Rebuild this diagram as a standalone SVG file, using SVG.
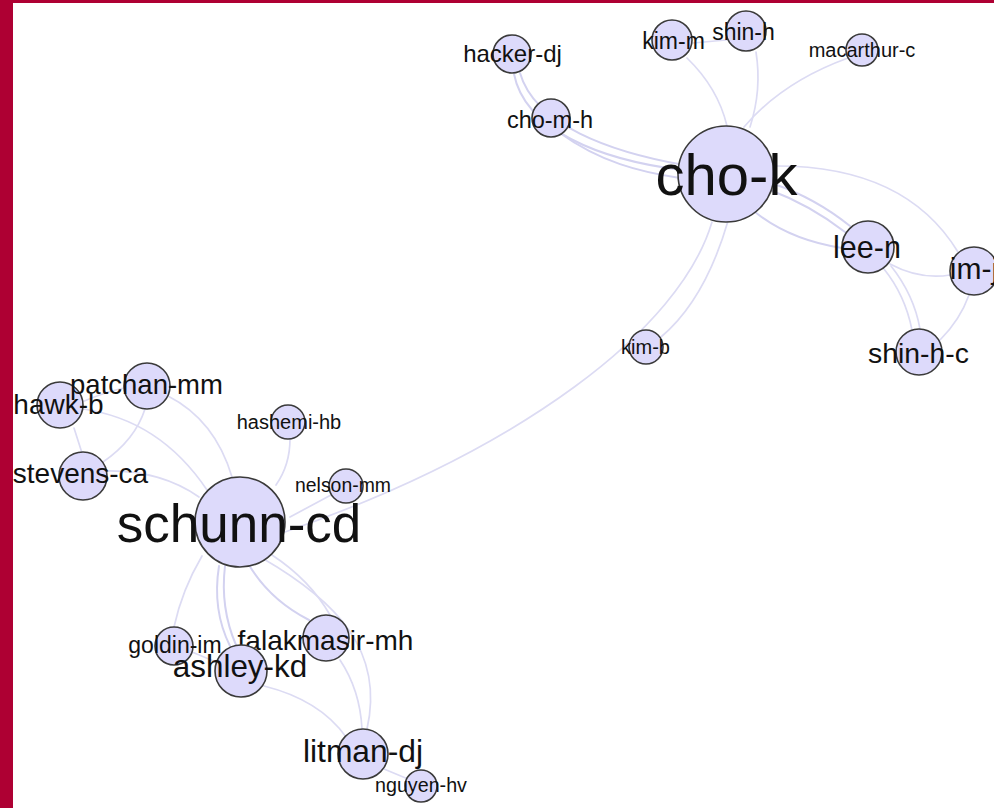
<svg xmlns="http://www.w3.org/2000/svg" width="994" height="808" viewBox="0 0 994 808">
  <style>
    .edge { fill: none; stroke: #d3d2f0; stroke-width: 2; stroke-linecap: round; }
    .edge.faint { stroke: #dcdbf3; stroke-width: 1.7; }
    .node circle { fill: #dddafb; stroke: #3a3a3a; stroke-width: 1.6; }
    .node text { font-family: "Liberation Sans", Arial, sans-serif; fill: #111; text-anchor: middle; }
  </style>

  <rect x="0" y="0" width="994" height="808" fill="#ffffff"/>
  <!-- frame -->
  <rect x="0" y="0" width="994" height="3" fill="#ae0033"/>
  <rect x="0" y="0" width="13" height="808" fill="#ae0033"/>

  <g id="connectors">
    <!-- cho-k cluster -->
    <path class="edge" d="M514,74 C525,130 600,160 682,170"/>
    <path class="edge" d="M520,73 C535,125 610,152 684,165"/>
    <path class="edge" d="M560,133 C600,162 640,172 680,178"/>
    <path class="edge faint" d="M687,58 Q718,88 727,126"/>
    <path class="edge faint" d="M756,52 Q762,90 750,127"/>
    <path class="edge faint" d="M848,58 Q782,82 744,127"/>
    <path class="edge faint" d="M693,43 L726,40"/>
    <path class="edge" d="M770,190 Q810,205 845,232"/>
    <path class="edge" d="M774,184 Q815,198 850,226"/>
    <path class="edge" d="M755,212 Q790,240 842,248"/>
    <path class="edge faint" d="M774,166 Q905,165 958,252"/>
    <path class="edge faint" d="M890,264 Q920,280 950,275"/>
    <path class="edge faint" d="M884,269 Q905,295 912,330"/>
    <path class="edge faint" d="M891,266 Q914,295 920,329"/>
    <path class="edge faint" d="M969,295 Q960,320 940,340"/>
    <path class="edge faint" d="M728,221 Q705,300 661,337"/>
    <path class="edge faint" d="M712,222 C680,330 520,450 285,532"/>

    <!-- schunn-cd cluster -->
    <path class="edge faint" d="M168,396 Q215,420 232,477"/>
    <path class="edge faint" d="M83,409 Q160,420 207,490"/>
    <path class="edge faint" d="M82,402 Q105,392 124,388"/>
    <path class="edge faint" d="M74,428 L82,453"/>
    <path class="edge faint" d="M145,409 Q135,440 103,462"/>
    <path class="edge faint" d="M106,471 Q160,470 199,497"/>
    <path class="edge faint" d="M290,439 Q290,465 276,485"/>
    <path class="edge faint" d="M331,495 L290,517"/>
    <path class="edge faint" d="M202,556 Q182,590 174,627"/>
    <path class="edge" d="M219,566 Q212,610 230,646"/>
    <path class="edge" d="M225,566 Q220,608 236,645"/>
    <path class="edge" d="M249,565 Q270,600 309,620"/>
    <path class="edge faint" d="M272,555 Q310,580 330,615"/>
    <path class="edge faint" d="M262,558 C335,600 385,650 367,729"/>
    <path class="edge faint" d="M264,686 Q320,700 346,737"/>
    <path class="edge faint" d="M340,660 Q360,690 362,729"/>
    <path class="edge faint" d="M192,652 L216,662"/>
    <path class="edge faint" d="M384,769 L408,779"/>
  </g>

  <g id="node-cho-k" class="node"><circle cx="726" cy="174" r="48"/><text x="726.5" y="195" font-size="58">cho-k</text></g>
  <g id="node-hacker-dj" class="node"><circle cx="512" cy="54" r="19"/><text x="512.5" y="62" font-size="24">hacker-dj</text></g>
  <g id="node-kim-m" class="node"><circle cx="672" cy="40" r="20"/><text x="673.5" y="49" font-size="23">kim-m</text></g>
  <g id="node-shin-h" class="node"><circle cx="746" cy="31" r="20"/><text x="743.5" y="40" font-size="23">shin-h</text></g>
  <g id="node-macarthur-c" class="node"><circle cx="862" cy="50" r="16"/><text x="862" y="57" font-size="20">macarthur-c</text></g>
  <g id="node-cho-m-h" class="node"><circle cx="551" cy="118" r="19"/><text x="550" y="128" font-size="23.5">cho-m-h</text></g>
  <g id="node-lee-n" class="node"><circle cx="868" cy="247" r="26"/><text x="867" y="258" font-size="30.5">lee-n</text></g>
  <g id="node-im-j" class="node"><circle cx="974" cy="271" r="24"/><text x="974" y="279" font-size="30">im-j</text></g>
  <g id="node-shin-h-c" class="node"><circle cx="919" cy="352" r="23"/><text x="918.5" y="363" font-size="28.4">shin-h-c</text></g>
  <g id="node-kim-b" class="node"><circle cx="646" cy="347" r="17"/><text x="645.5" y="354" font-size="20">kim-b</text></g>

  <g id="node-hawk-b" class="node"><circle cx="60" cy="405" r="23"/><text x="58.5" y="414" font-size="28">hawk-b</text></g>
  <g id="node-patchan-mm" class="node"><circle cx="147" cy="386" r="23"/><text x="146.5" y="394" font-size="27.5">patchan-mm</text></g>
  <g id="node-stevens-ca" class="node"><circle cx="83" cy="476" r="24"/><text x="80.5" y="483" font-size="28">stevens-ca</text></g>
  <g id="node-hashemi-hb" class="node"><circle cx="288" cy="422" r="17"/><text x="289" y="429" font-size="20">hashemi-hb</text></g>
  <g id="node-nelson-mm" class="node"><circle cx="346" cy="486" r="17"/><text x="343" y="492" font-size="19.4">nelson-mm</text></g>
  <g id="node-schunn-cd" class="node"><circle cx="240" cy="522" r="45"/><text x="239" y="542" font-size="53">schunn-cd</text></g>
  <g id="node-goldin-im" class="node"><circle cx="174" cy="646" r="19"/><text x="175" y="653" font-size="23">goldin-im</text></g>
  <g id="node-falakmasir-mh" class="node"><circle cx="326" cy="638" r="23"/><text x="325.5" y="650" font-size="28">falakmasir-mh</text></g>
  <g id="node-ashley-kd" class="node"><circle cx="241" cy="671" r="26"/><text x="240" y="677" font-size="31.4">ashley-kd</text></g>
  <g id="node-litman-dj" class="node"><circle cx="363" cy="754" r="25"/><text x="363" y="762" font-size="31.8">litman-dj</text></g>
  <g id="node-nguyen-hv" class="node"><circle cx="421" cy="786" r="16"/><text x="421" y="792" font-size="19.7">nguyen-hv</text></g>
</svg>
